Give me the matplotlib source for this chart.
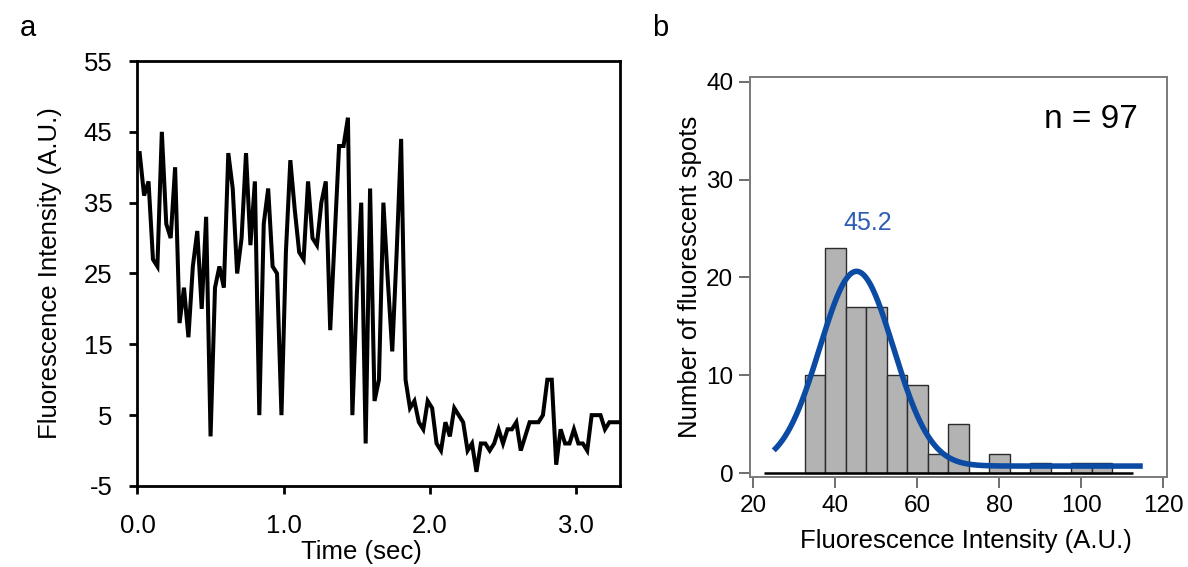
import numpy as np
import matplotlib
matplotlib.use("Agg")
import matplotlib.pyplot as plt

plt.rcParams['font.family'] = ['Liberation Sans', 'DejaVu Sans']
plt.rcParams['axes.unicode_minus'] = False

# panel a: single-spot intensity trace, 33 frames per second
frame_rate = 33.0
intensity = [42, 36, 38, 27, 26, 45, 32, 30, 40, 18, 23, 16, 26, 31, 20, 33, 2, 23, 26, 23,
             42, 37, 25, 30, 42, 29, 38, 5, 32, 37, 26, 25, 5, 28, 41, 34, 28, 27, 38, 30,
             29, 35, 38, 17, 30, 43, 43, 47, 5, 22, 35, 1, 37, 7, 10, 35, 24, 14, 28, 44,
             10, 6, 7, 4, 3, 7, 6, 1, 0, 4, 2, 6, 5, 4, 0, 1, -3, 1, 1, 0,
             1, 3, 1, 3, 3, 4, 0, 2, 4, 4, 4, 5, 10, 10, -2, 3, 1, 1, 3, 1,
             1, 0, 5, 5, 5, 3, 4, 4, 4]
time = (np.arange(len(intensity)) + 0.5) / frame_rate

# panel b: histogram of spot intensities (bin width 5)
bin_left = [32.5, 37.5, 42.5, 47.5, 52.5, 57.5, 62.5, 67.5, 72.5, 77.5, 82.5, 87.5, 92.5, 97.5, 102.5]
counts = [10, 23, 17, 17, 10, 9, 2, 5, 0, 2, 0, 1, 0, 1, 1]
bin_width = 5
n_spots = 97

# gaussian fit
fit_mean = 45.2
fit_amp = 19.9
fit_sigma = 9.0
fit_base = 0.72
fit_range = (25, 115)

fig = plt.figure(figsize=(11.88, 5.67), dpi=100)

# ---- panel a ----
ax1 = fig.add_axes([0.1157, 0.1429, 0.4062, 0.7495])
ax1.plot(time, intensity, color='black', lw=2.9, solid_joinstyle='miter')
ax1.set_xlim(0, 3.3)
ax1.set_ylim(-5, 55)
ax1.set_xticks([0, 1, 2, 3])
ax1.set_xticklabels(['0.0', '1.0', '2.0', '3.0'])
ax1.set_yticks(np.arange(-5, 56, 10))
for s in ax1.spines.values():
    s.set_linewidth(2.0)
ax1.tick_params(direction='out', length=6, width=2, labelsize=18.5)
ax1.tick_params(axis='x', pad=14)
ax1.tick_params(axis='y', pad=12)
ax1.set_xlabel('Time (sec)', fontsize=18.5)
ax1.set_ylabel('Fluorescence Intensity (A.U.)', fontsize=18.5)
ax1.xaxis.set_label_coords(0.465, -0.128)
ax1.yaxis.set_label_coords(-0.156, 0.5)

# ---- panel b ----
ax2 = fig.add_axes([0.6313, 0.1587, 0.351, 0.705])
ax2.bar(bin_left, counts, width=bin_width, align='edge', color='#b3b3b3',
        edgecolor='#2b2b2b', linewidth=1.0, zorder=2)
ax2.hlines(0, 22.5, 112.5, color='black', lw=1.8, zorder=3)
xf = np.linspace(fit_range[0], fit_range[1], 400)
yf = fit_base + fit_amp * np.exp(-(xf - fit_mean) ** 2 / (2 * fit_sigma ** 2))
ax2.plot(xf, yf, color='#0b4ba3', lw=4.0, zorder=4, solid_capstyle='butt')
ax2.text(47.8, 25.6, f'{fit_mean}', color='#2f5db3', fontsize=18, ha='center', va='center')
ax2.text(0.93, 0.895, f'n = {n_spots}', transform=ax2.transAxes, fontsize=24,
         ha='right', va='center')
ax2.set_xlim(19.2, 120.9)
ax2.set_ylim(-0.4, 40.45)
ax2.set_xticks(np.arange(20, 121, 20))
ax2.set_yticks(np.arange(0, 41, 10))
for s in ax2.spines.values():
    s.set_linewidth(1.4)
    s.set_color('#7a7a7a')
ax2.tick_params(direction='out', length=8, width=1.2, color='#555555', labelsize=17.5)
ax2.tick_params(axis='x', pad=5)
ax2.tick_params(axis='y', pad=4)
ax2.set_xlabel('Fluorescence Intensity (A.U.)', fontsize=18.5)
ax2.set_ylabel('Number of fluorescent spots', fontsize=18.5)
ax2.xaxis.set_label_coords(0.519, -0.13)
ax2.yaxis.set_label_coords(-0.115, 0.5)

fig.text(0.017, 0.95, 'a', fontsize=21, ha='left', va='center')
fig.text(0.549, 0.95, 'b', fontsize=21, ha='left', va='center')

fig.savefig('out.png', dpi=100)
